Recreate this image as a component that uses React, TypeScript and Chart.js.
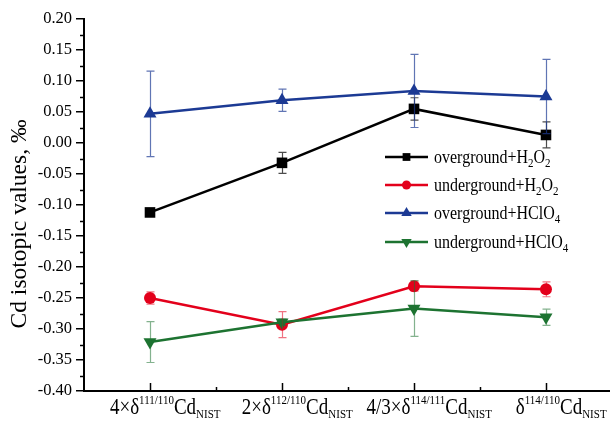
import { useEffect, useRef } from 'react';
import { Chart, registerables } from 'chart.js';

Chart.register(...registerables);

const FONT = "'Liberation Serif', 'Times New Roman', Times, serif";

// Category positions and tick label parts
const categoryPositions = [1, 2, 3, 4];
const xLabelPrefixes = ['4×δ', '2×δ', '4/3×δ', 'δ'];
const xLabelSups = ['111/110', '112/110', '114/111', '114/110'];
const xLabelMain = 'Cd';
const xLabelSub = 'NIST';

// Y axis
const yMin = -0.4;
const yMax = 0.2;
const yStep = 0.05;
const yTitle = 'Cd isotopic values, ‰';

// Series values (‰) and their error half-widths
const overgroundH2O2 = [-0.112, -0.032, 0.055, 0.013];
const overgroundH2O2Err = [0.004, 0.017, 0.018, 0.021];
const undergroundH2O2 = [-0.25, -0.293, -0.231, -0.236];
const undergroundH2O2Err = [0.01, 0.021, 0.008, 0.012];
const overgroundHClO4 = [0.047, 0.069, 0.084, 0.075];
const overgroundHClO4Err = [0.069, 0.018, 0.059, 0.06];
const undergroundHClO4 = [-0.321, -0.289, -0.267, -0.281];
const undergroundHClO4Err = [0.033, 0.005, 0.045, 0.013];

// Legend labels: main text followed by subscript pieces
const legendParts = [
  [['overground+H', 'n'], ['2', 's'], ['O', 'n'], ['2', 's']],
  [['underground+H', 'n'], ['2', 's'], ['O', 'n'], ['2', 's']],
  [['overground+HClO', 'n'], ['4', 's']],
  [['underground+HClO', 'n'], ['4', 's']],
];
const seriesNames = ['overground+H2O2', 'underground+H2O2', 'overground+HClO4', 'underground+HClO4'];

const colors = ['#000000', '#e3001b', '#1c3a94', '#1d7331'];
const errColors = ['rgba(0,0,0,0.7)', 'rgba(227,0,27,0.55)', 'rgba(28,58,148,0.7)', 'rgba(29,115,49,0.55)'];
const markerStyles = ['rect', 'circle', 'triangle', 'triangleDown'];

function drawMarker(ctx: CanvasRenderingContext2D, style: string, x: number, y: number, r: number, color: string) {
  ctx.save();
  ctx.fillStyle = color;
  ctx.beginPath();
  if (style === 'rect') {
    const s = r * Math.SQRT1_2;
    ctx.rect(x - s, y - s, 2 * s, 2 * s);
  } else if (style === 'circle') {
    ctx.arc(x, y, r, 0, Math.PI * 2);
  } else {
    const down = style === 'triangleDown';
    let rad = down ? Math.PI : 0;
    for (let i = 0; i < 3; i++) {
      const px = x + Math.sin(rad) * r;
      const py = y - Math.cos(rad) * r;
      if (i === 0) ctx.moveTo(px, py);
      else ctx.lineTo(px, py);
      rad += (2 * Math.PI) / 3;
    }
    ctx.closePath();
  }
  ctx.fill();
  ctx.restore();
}

const errorBarPlugin = {
  id: 'errorBars',
  afterDatasetsDraw(chart: any) {
    const ctx: CanvasRenderingContext2D = chart.ctx;
    const xs = chart.scales.x;
    const ys = chart.scales.y;
    chart.data.datasets.forEach((ds: any) => {
      const errs: number[] = ds.errors || [];
      ctx.save();
      ctx.strokeStyle = ds.errColor;
      ctx.lineWidth = 1.2;
      ds.data.forEach((p: any, i: number) => {
        const e = errs[i];
        if (!e) return;
        const px = Math.round(xs.getPixelForValue(p.x)) + 0.5;
        const top = ys.getPixelForValue(p.y + e);
        const bot = ys.getPixelForValue(p.y - e);
        ctx.beginPath();
        ctx.moveTo(px, top);
        ctx.lineTo(px, bot);
        ctx.moveTo(px - 4, top);
        ctx.lineTo(px + 4, top);
        ctx.moveTo(px - 4, bot);
        ctx.lineTo(px + 4, bot);
        ctx.stroke();
      });
      ctx.restore();
    });
  },
};

const decorPlugin = {
  id: 'decor',
  afterDraw(chart: any) {
    const ctx: CanvasRenderingContext2D = chart.ctx;
    const xs = chart.scales.x;
    const ys = chart.scales.y;
    const area = chart.chartArea;
    ctx.save();
    ctx.strokeStyle = '#000';
    ctx.lineWidth = 1.5;
    // x ticks (inward)
    categoryPositions.forEach((c) => {
      const px = Math.round(xs.getPixelForValue(c)) + 0.5;
      ctx.beginPath();
      ctx.moveTo(px, area.bottom);
      ctx.lineTo(px, area.bottom - 8);
      ctx.stroke();
      const mx = Math.round(xs.getPixelForValue(c + 0.5)) + 0.5;
      if (mx < area.right) {
        ctx.beginPath();
        ctx.moveTo(mx, area.bottom);
        ctx.lineTo(mx, area.bottom - 4);
        ctx.stroke();
      }
    });
    // y minor ticks (outward)
    for (let v = yMin + yStep / 2; v < yMax; v += yStep) {
      const py = Math.round(ys.getPixelForValue(v)) + 0.5;
      ctx.beginPath();
      ctx.moveTo(area.left, py);
      ctx.lineTo(area.left - 4, py);
      ctx.stroke();
    }
    ctx.restore();

    const drawStretched = (t: string, x: number, base: number, stretch: number) => {
      ctx.save();
      ctx.translate(x, base);
      ctx.scale(1, stretch);
      ctx.fillText(t, 0, 0);
      ctx.restore();
    };

    // x tick labels with superscripts/subscripts
    ctx.save();
    ctx.fillStyle = '#000';
    ctx.textBaseline = 'alphabetic';
    ctx.textAlign = 'left';
    const mainFont = `19px ${FONT}`;
    const smallFont = `11px ${FONT}`;
    const stretch = 1.2;
    const baseMain = area.bottom + 23;
    const baseSup = baseMain - 10;
    const baseSub = baseMain + 4;
    categoryPositions.forEach((c, i) => {
      ctx.font = mainFont;
      const w1 = ctx.measureText(xLabelPrefixes[i]).width;
      const w3 = ctx.measureText(xLabelMain).width;
      ctx.font = smallFont;
      const w2 = ctx.measureText(xLabelSups[i]).width;
      const core = w1 + w2 + w3;
      let x = xs.getPixelForValue(c) - core / 2 + 3;
      ctx.font = mainFont;
      drawStretched(xLabelPrefixes[i], x, baseMain, stretch);
      x += w1;
      ctx.font = smallFont;
      drawStretched(xLabelSups[i], x, baseSup, stretch);
      x += w2;
      ctx.font = mainFont;
      drawStretched(xLabelMain, x, baseMain, stretch);
      x += w3;
      ctx.font = smallFont;
      drawStretched(xLabelSub, x, baseSub, stretch);
    });
    ctx.restore();

    // y axis title
    ctx.save();
    ctx.fillStyle = '#000';
    ctx.font = `23.5px ${FONT}`;
    ctx.textAlign = 'center';
    ctx.textBaseline = 'middle';
    ctx.translate(20, 224);
    ctx.rotate(-Math.PI / 2);
    ctx.fillText(yTitle, 0, 0);
    ctx.restore();

    // legend
    ctx.save();
    const lx0 = 385;
    const lx1 = 428;
    const tx = 434;
    const rowY = [157, 185, 213, 242];
    const legendMarkerR = [5.5, 4.5, 6, 6];
    legendParts.forEach((parts, i) => {
      const y = rowY[i];
      ctx.strokeStyle = colors[i];
      ctx.lineWidth = 2.5;
      ctx.beginPath();
      ctx.moveTo(lx0, y);
      ctx.lineTo(lx1, y);
      ctx.stroke();
      drawMarker(ctx, markerStyles[i], (lx0 + lx1) / 2, y, legendMarkerR[i], colors[i]);
      let x = tx;
      ctx.fillStyle = '#000';
      ctx.textAlign = 'left';
      ctx.textBaseline = 'alphabetic';
      parts.forEach(([t, kind]) => {
        ctx.font = kind === 'n' ? `16px ${FONT}` : `11px ${FONT}`;
        drawStretched(t, x, kind === 'n' ? y + 5.5 : y + 10, 1.15);
        x += ctx.measureText(t).width;
      });
    });
    ctx.restore();
  },
};

export default function App() {
  const ref = useRef<HTMLCanvasElement | null>(null);

  useEffect(() => {
    if (!ref.current) return;
    const seriesValues = [overgroundH2O2, undergroundH2O2, overgroundHClO4, undergroundHClO4];
    const seriesErrs = [overgroundH2O2Err, undergroundH2O2Err, overgroundHClO4Err, undergroundHClO4Err];
    const datasets = seriesValues.map((vals, i) => ({
      label: seriesNames[i],
      data: vals.map((v, j) => ({ x: categoryPositions[j], y: v })),
      errors: seriesErrs[i],
      errColor: errColors[i],
      borderColor: colors[i],
      backgroundColor: colors[i],
      pointBackgroundColor: colors[i],
      pointBorderColor: colors[i],
      pointBorderWidth: 0,
      borderWidth: 2.5,
      tension: 0,
      fill: false,
      pointStyle: markerStyles[i] === 'triangleDown' ? 'triangle' : markerStyles[i],
      rotation: markerStyles[i] === 'triangleDown' ? 180 : 0,
      pointRadius: markerStyles[i] === 'circle' ? 6 : 7.5,
      order: 3 - i,
    }));

    const chart = new Chart(ref.current, {
      type: 'line',
      data: { datasets } as any,
      options: {
        responsive: false,
        animation: false,
        devicePixelRatio: 1,
        layout: { autoPadding: false, padding: { top: 19, right: 0, left: 0, bottom: 0 } },
        plugins: {
          legend: { display: false },
          tooltip: { enabled: false },
        },
        scales: {
          x: {
            type: 'linear',
            min: 0.5,
            max: 4.485,
            afterFit: (s: any) => {
              s.height = 32;
            },
            ticks: { display: false },
            grid: { display: false },
            border: { display: true, color: '#000', width: 2 },
          },
          y: {
            type: 'linear',
            min: yMin,
            max: yMax,
            afterFit: (s: any) => {
              s.width = 84;
            },
            ticks: {
              stepSize: yStep,
              color: '#000',
              padding: 4,
              font: { family: FONT, size: 16.5 },
              callback: (v: any) => (Math.abs(Number(v)) < 1e-9 ? 0 : Number(v)).toFixed(2),
            },
            grid: {
              drawOnChartArea: false,
              drawTicks: true,
              tickLength: 8,
              color: '#000',
              lineWidth: 1.5,
            },
            border: { display: true, color: '#000', width: 2 },
          },
        },
      } as any,
      plugins: [errorBarPlugin, decorPlugin],
    });
    return () => chart.destroy();
  }, []);

  return (
    <div style={{ position: 'absolute', left: 0, top: 0, width: 610, height: 423, background: '#fff' }}>
      <canvas ref={ref} width={610} height={423} />
    </div>
  );
}
